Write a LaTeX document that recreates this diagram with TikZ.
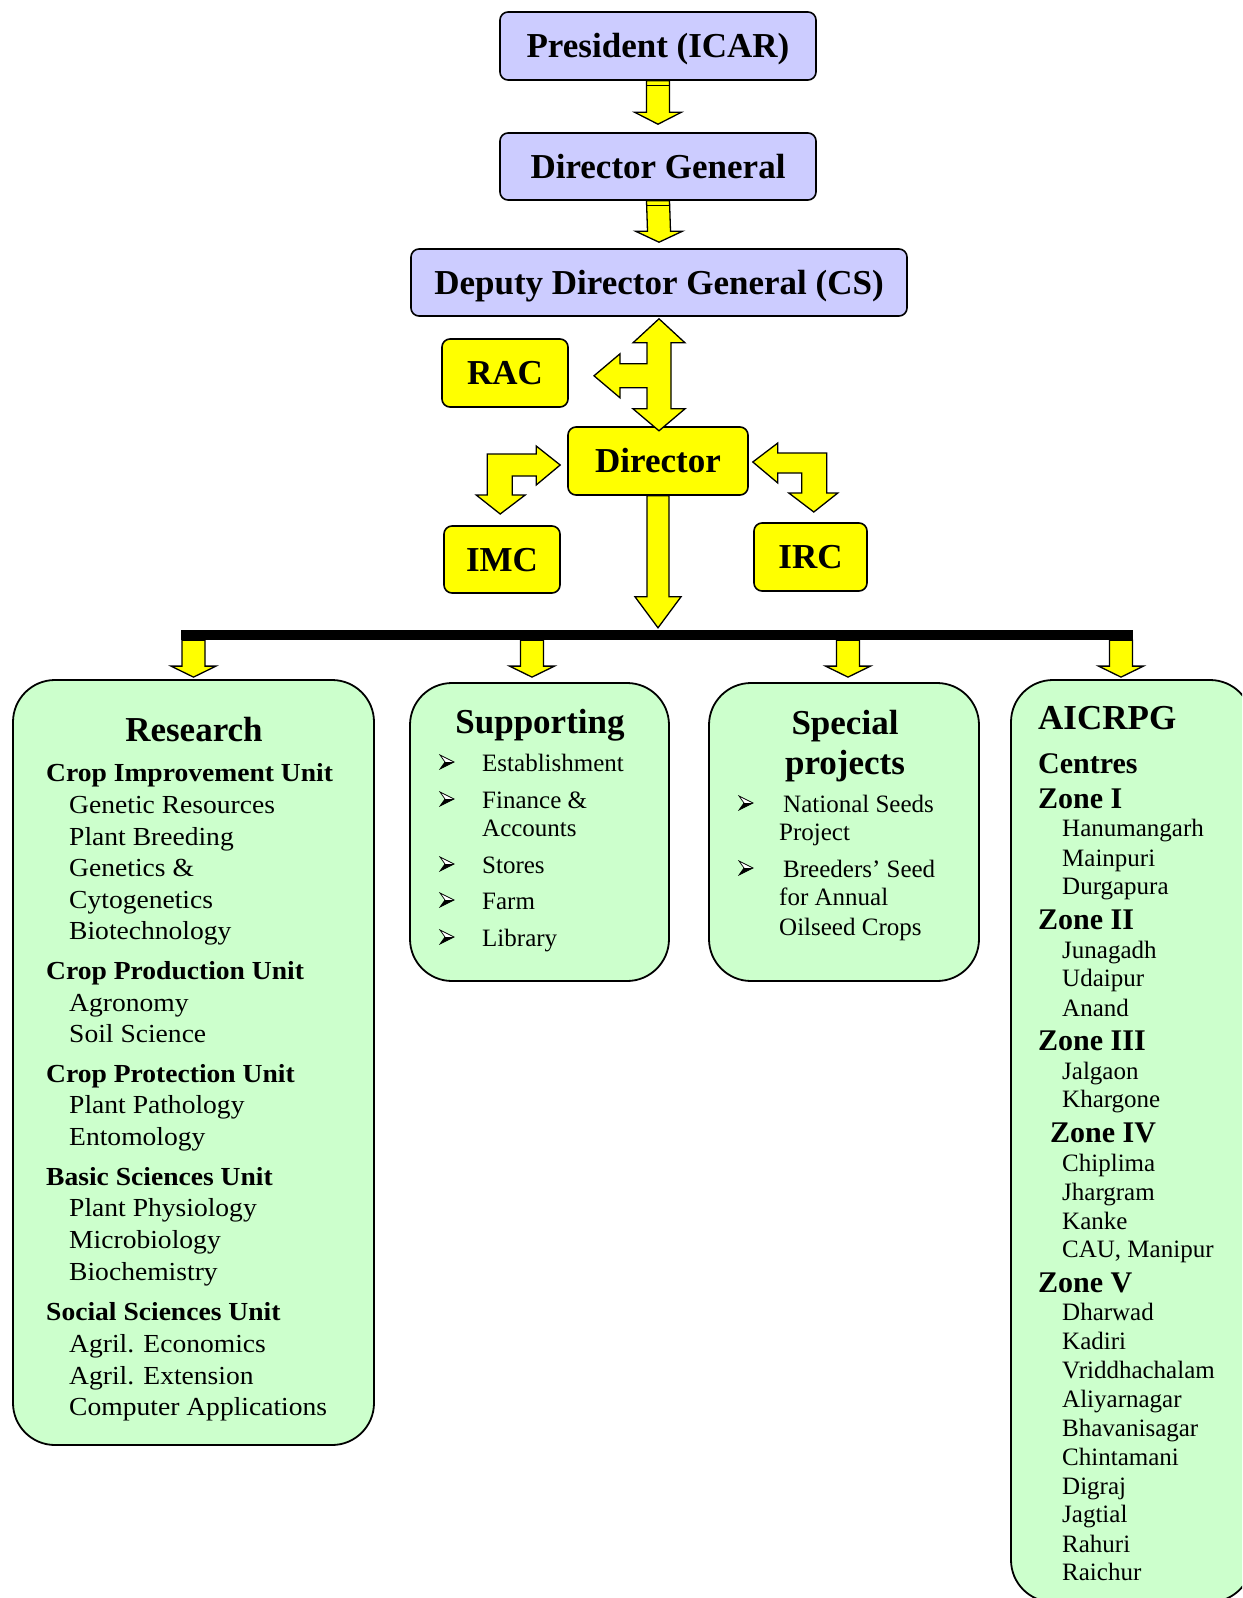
\documentclass[tikz,border=0pt]{standalone}
\usepackage{fontspec}
\setmainfont{Liberation Serif}
\newfontfamily\resfont[FakeStretch=1.06]{Liberation Serif}
\usetikzlibrary{calc}
\definecolor{boxblue}{HTML}{CCCCFF}
\definecolor{boxgreen}{HTML}{CCFFCC}
\definecolor{ayellow}{HTML}{FFFF00}
% vertical block arrow: #1 top centre, #2 tip, #3 shaft half width, #4 head half width, #5 head length
\newcommand\vblock[5]{\draw[blockarrow] ($(#1)+(-#3,0)$) -- ($(#1)+(#3,0)$) -- ($(#2)+(#3,-#5)$) -- ($(#2)+(#4,-#5)$) -- (#2) -- ($(#2)+(-#4,-#5)$) -- ($(#2)+(-#3,-#5)$) -- cycle;}
\begin{document}
\begin{tikzpicture}[x=1pt,y=-1pt,
 topbox/.style={draw=black,line width=1.6pt,fill=boxblue,rounded corners=8pt,inner sep=0pt,font=\fontsize{35}{40}\selectfont\bfseries,text height=23pt,text depth=0pt},
 ybox/.style={topbox,fill=ayellow},
 gbox/.style={draw=black,line width=1.8pt,fill=boxgreen,rounded corners=42pt,inner sep=0pt},
 blockarrow/.style={draw=black,line width=1.3pt,fill=ayellow,line join=miter},
 item/.style={anchor=base west,inner sep=0pt,font=\fontsize{25}{29}\selectfont},
 zone/.style={anchor=base west,inner sep=0pt,font=\fontsize{30}{34}\selectfont\bfseries},
 bigtitle/.style={anchor=base,inner sep=0pt,font=\fontsize{35}{40}\selectfont\bfseries},
 ritem/.style={anchor=base west,inner sep=0pt,font=\resfont\fontsize{26}{31}\selectfont},
 rhead/.style={anchor=base west,inner sep=0pt,font=\resfont\fontsize{26}{31}\selectfont\bfseries},
 bulletpic/.pic={\draw[line width=0.7pt,fill=white,line join=miter] (0,-7) -- (14,0) -- (0,7) -- (5,0) -- cycle;
                 \fill[black] (5,0) -- (14,0) -- (0,7) -- cycle;},
]
\clip (0,0) rectangle (1242,1598);
\fill[white] (0,0) rectangle (1242,1598);

% top hierarchy
\node[topbox,minimum width=316pt,minimum height=68pt] (pres) at (658,46) {President (ICAR)};
\node[topbox,minimum width=316pt,minimum height=67pt] (dg) at (658,166.5) {Director General};
\node[topbox,minimum width=496pt,minimum height=67pt] (ddg) at (659,282.5) {Deputy Director General (CS)};
\node[ybox,minimum width=126pt,minimum height=68pt] (rac) at (505,373) {RAC};
\node[ybox,minimum width=180pt,minimum height=68pt] (dir) at (658,461) {Director};
\node[ybox,minimum width=116pt,minimum height=67pt] (imc) at (502,559.5) {IMC};
\node[ybox,minimum width=113pt,minimum height=68pt] (irc) at (810.5,557) {IRC};

% green boxes
\node[gbox,minimum width=361pt,minimum height=765pt] (res) at (193.5,1062.5) {};
\node[gbox,minimum width=259pt,minimum height=298pt] (sup) at (539.5,832) {};
\node[gbox,minimum width=270pt,minimum height=298pt] (spe) at (844,832) {};
\node[gbox,minimum width=241pt,minimum height=922pt] (aic) at (1131.5,1141) {};

% bar
\node[fill=black,inner sep=0pt,minimum width=952pt,minimum height=10pt] (bar) at (657,635) {};

% arrows President -> DG -> DDG
\coordinate (pa) at (pres.south);
\coordinate (pb) at ($(dg.north)+(0,-8)$);
\vblock{pa}{pb}{11.5}{23.5}{12}
\draw[line width=1.2pt] ($(pa)+(-11.5,5)$) -- ($(pa)+(11.5,5)$);
\coordinate (ga) at (dg.south);
\coordinate (gb) at ($(ddg.north)+(0,-6)$);
\vblock{ga}{gb}{11.5}{23.5}{11}
\draw[line width=1.2pt] ($(ga)+(-11.5,5)$) -- ($(ga)+(11.5,5)$);

% DDG <-> Director with arm to RAC
\begin{scope}[shift={($(ddg.south)+(0,2)$)}]
\draw[blockarrow] (0,0) -- (26,24) -- (12,24) -- (12,90) -- (26,90) -- (0,112) -- (-26,90) -- (-12,90) -- (-12,69) -- (-39,69) -- (-39,79) -- (-65,57) -- (-39,35) -- (-39,45) -- (-12,45) -- (-12,24) -- (-26,24) -- cycle;
\end{scope}

% Director <-> IMC
\begin{scope}[shift={(dir.west)}]
\draw[blockarrow] (-7,4) -- (-31,-15) -- (-31,-7) -- (-80,-7) -- (-80,34) -- (-91,34) -- (-67,53) -- (-42,34) -- (-55,34) -- (-55,15) -- (-31,15) -- (-31,24) -- cycle;
\end{scope}

% Director <-> IRC
\begin{scope}[shift={(dir.east)}]
\draw[blockarrow] (4,1) -- (29,-18) -- (29,-8) -- (78,-8) -- (78,32) -- (89,32) -- (65,51) -- (40,32) -- (53,32) -- (53,12) -- (29,12) -- (29,22) -- cycle;
\end{scope}

% Director -> bar
\coordinate (da) at (dir.south);
\coordinate (db) at ($(bar.north -| dir.south)+(0,-2)$);
\vblock{da}{db}{11}{23}{31}

% bar -> boxes
\coordinate (ra) at (bar.south -| res.north);
\coordinate (rb) at ($(res.north)+(0,-2)$);
\vblock{ra}{rb}{11.5}{22.5}{11}
\coordinate (sa) at ($(bar.south -| sup.north)+(-7.5,0)$);
\coordinate (sb) at ($(sup.north)+(-7.5,-5)$);
\vblock{sa}{sb}{11.5}{22.5}{11}
\coordinate (pa2) at ($(bar.south -| spe.north)+(4,0)$);
\coordinate (pb2) at ($(spe.north)+(4,-5)$);
\vblock{pa2}{pb2}{11.5}{22.5}{11}
\coordinate (aa) at ($(bar.south -| aic.north)+(-10.5,0)$);
\coordinate (ab) at ($(aic.north)+(-10.5,-2)$);
\vblock{aa}{ab}{11.5}{22.5}{11}

% Research text
\node[bigtitle] (rtitle) at (194,741) {Research};
\foreach \t/\y [count=\i] in {Crop Improvement Unit/781, Crop Production Unit/979, Crop Protection Unit/1082, Basic Sciences Unit/1185, Social Sciences Unit/1320}
  \node[rhead] (rh\i) at (46,\y) {\t};
\foreach \t/\y [count=\i] in {Genetic Resources/813, Plant Breeding/845, Genetics \&/876, Cytogenetics/908, Biotechnology/939, Agronomy/1011, Soil Science/1042, Plant Pathology/1113, Entomology/1145, Plant Physiology/1216, Microbiology/1248, Biochemistry/1280, Agril. Economics/1352, Agril. Extension/1384, Computer Applications/1415}
  \node[ritem] (ri\i) at (69,\y) {\t};

% Supporting text
\node[bigtitle] (stitle) at (540,733) {Supporting};
\foreach \y [count=\i] in {771,808,873,909,946}
  \pic (sbul\i) at (440,\y-9) {bulletpic};
\foreach \t/\y [count=\i] in {Establishment/771, Finance \&/808, Accounts/836, Stores/873, Farm/909, Library/946}
  \node[item] (si\i) at (482,\y) {\t};

% Special projects text
\node[bigtitle] (ptitle1) at (845,734) {Special};
\node[bigtitle] (ptitle2) at (845,774) {projects};
\foreach \y [count=\i] in {812,877}
  \pic (pbul\i) at (739,\y-9) {bulletpic};
\node[item] (pi1) at (783,812) {National Seeds};
\node[item] (pi2) at (779,840) {Project};
\node[item] (pi3) at (783,877) {Breeders’ Seed};
\node[item] (pi4) at (779,905) {for Annual};
\node[item] (pi5) at (779,935) {Oilseed Crops};

% AICRPG text
\node[bigtitle,anchor=base west] (atitle) at (1038,729) {AICRPG};
\node[zone] (acent) at (1038,773) {Centres};
\node[zone] (z1) at (1038,808) {Zone I};
\node[zone] (z2) at (1038,929) {Zone II};
\node[zone] (z3) at (1038,1050) {Zone III};
\node[zone] (z4) at (1050,1142) {Zone IV};
\node[zone] (z5) at (1038,1292) {Zone V};
\foreach \t/\y [count=\i] in {Hanumangarh/836, Mainpuri/866, Durgapura/894, Junagadh/958, Udaipur/986, Anand/1016, Jalgaon/1079, Khargone/1107, Chiplima/1171, Jhargram/1200, Kanke/1229, {CAU, Manipur}/1257, Dharwad/1320, Kadiri/1349, Vriddhachalam/1378, Aliyarnagar/1407, Bhavanisagar/1436, Chintamani/1465, Digraj/1494, Jagtial/1522, Rahuri/1552, Raichur/1580}
  \node[item] (ai\i) at (1062,\y) {\t};
\end{tikzpicture}
\end{document}
